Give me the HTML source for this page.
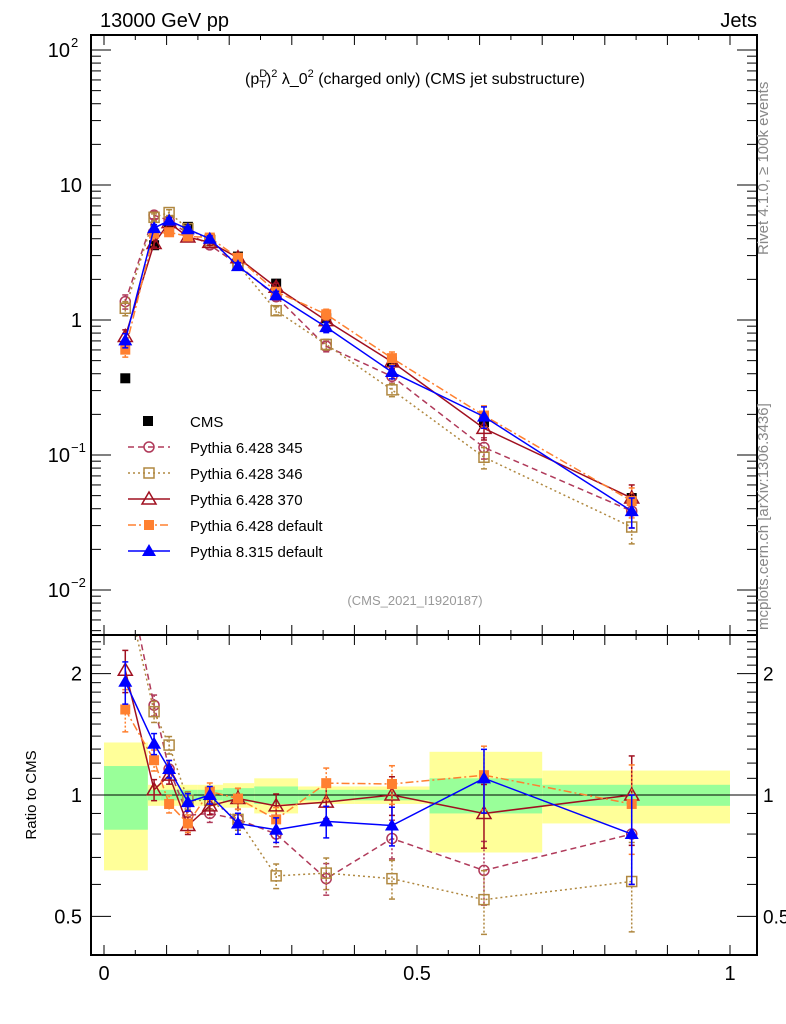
<!DOCTYPE html>
<html><head><meta charset="utf-8"><style>
body{margin:0;background:#fff}
svg{display:block;font-family:"Liberation Sans",sans-serif}
</style></head><body>
<svg id="c" width="786" height="1024" viewBox="0 0 786 1024" xmlns="http://www.w3.org/2000/svg">
<g id="bands"></g>
<g id="grid"></g>
<g id="marks"></g>
<g id="frames"></g>
<text x="100" y="27" font-size="20">13000 GeV pp</text>
<text x="757" y="27" font-size="20" text-anchor="end">Jets</text>
<text x="415" y="84" font-size="16" text-anchor="middle">(p<tspan font-size="11" dy="-7">D</tspan><tspan font-size="11" dy="11" dx="-8">T</tspan><tspan dy="-4">)</tspan><tspan font-size="11" dy="-7">2</tspan><tspan dy="7"> λ_0</tspan><tspan font-size="11" dy="-7">2</tspan><tspan dy="7"> (charged only) (CMS jet substructure)</tspan></text>
<text x="415" y="605" font-size="13" fill="#999" text-anchor="middle">(CMS_2021_I1920187)</text>
<text transform="translate(768,255) rotate(-90)" font-size="15" fill="#888">Rivet 4.1.0, ≥ 100k events</text>
<text transform="translate(768,630) rotate(-90)" font-size="15" fill="#888">mcplots.cern.ch [arXiv:1306.3436]</text>
<text transform="translate(36,795) rotate(-90)" font-size="15" text-anchor="middle">Ratio to CMS</text>
<g id="legend"></g>
</svg>
<script>
const xs=[0.034,0.08,0.104,0.134,0.169,0.214,0.275,0.355,0.46,0.607,0.843];
const binEdges=[0,0.07,0.09,0.12,0.15,0.19,0.24,0.31,0.40,0.52,0.70,1.0];
const cms=[0.37,3.58,4.7,4.9,4.0,2.95,1.86,1.03,0.49,0.175,0.048];
const bandYellow=[0.35,0.06,0.06,0.06,0.06,0.07,0.10,0.05,0.05,0.28,0.15];
const bandGreen=[0.18,0.03,0.03,0.03,0.03,0.04,0.05,0.03,0.03,0.10,0.06];
const r345=[3.7,1.67,1.16,0.89,0.90,0.87,0.80,0.62,0.78,0.65,0.80];
const r346=[3.3,1.61,1.33,0.97,0.97,0.87,0.63,0.64,0.62,0.55,0.61];
const r370=[2.04,1.03,1.12,0.84,0.94,0.98,0.94,0.96,1.0,0.9,1.0];
const r6def=[1.63,1.22,0.95,0.85,1.02,0.98,0.87,1.07,1.065,1.12,0.95];
const r8def=[1.91,1.34,1.16,0.96,1.0,0.85,0.82,0.86,0.84,1.1,0.8];
const relErr=[0.12,0.06,0.05,0.05,0.05,0.06,0.07,0.09,0.11,0.18,0.25];

const NS="http://www.w3.org/2000/svg";
const X=v=>104+626*v;
const Ym=v=>320-135*Math.log10(v);
const Yr=v=>795-403*Math.log10(v);
const L=91,R=757,T=35,M=635,B=955;
function el(t,a,p){const e=document.createElementNS(NS,t);for(const k in a)e.setAttribute(k,a[k]);(p||document.getElementById('marks')).appendChild(e);return e;}
const clip=el('clipPath',{id:'cm'},document.getElementById('c'));el('rect',{x:L,y:T,width:R-L,height:M-T},clip);
const clip2=el('clipPath',{id:'cr'},document.getElementById('c'));el('rect',{x:L,y:M,width:R-L,height:B-M},clip2);

const bg=document.getElementById('bands');
for(let i=0;i<cms.length;i++){
  const x0=X(binEdges[i]),x1=X(binEdges[i+1]);
  let r=el('rect',{x:x0,y:Yr(1+bandYellow[i]),width:x1-x0,height:Yr(1-bandYellow[i])-Yr(1+bandYellow[i]),fill:'#ffff99'},bg);
  
  
  r=el('rect',{x:x0,y:Yr(1+bandGreen[i]),width:x1-x0,height:Yr(1-bandGreen[i])-Yr(1+bandGreen[i]),fill:'#99ff99'},bg);
  
  
}
el('line',{x1:L,x2:R,y1:Yr(1),y2:Yr(1),stroke:'#000','stroke-width':1});

function marker(type,x,y,c,p){
  const s=5;let e;
  if(type==='sq') e=el('rect',{x:x-s,y:y-s,width:2*s,height:2*s,fill:c},p);
  else if(type==='osq') e=el('rect',{x:x-s,y:y-s,width:2*s,height:2*s,fill:'#fff','fill-opacity':0,stroke:c,'stroke-width':1.5},p);
  else if(type==='oc') e=el('circle',{cx:x,cy:y,r:5,fill:'none',stroke:c,'stroke-width':1.5},p);
  else if(type==='otri') e=el('path',{d:`M${x},${y-7}L${x+7},${y+5}L${x-7},${y+5}Z`,fill:'none',stroke:c,'stroke-width':1.5},p);
  else if(type==='tri') e=el('path',{d:`M${x},${y-7}L${x+7},${y+5}L${x-7},${y+5}Z`,fill:c},p);
  else if(type==='bsq') e=el('rect',{x:x-5,y:y-5,width:10,height:10,fill:c},p);
  return e;
}
const series=[
 {name:'Pythia 6.428 345',r:r345,c:'#b03a5a',dash:'6,4',m:'oc'},
 {name:'Pythia 6.428 346',r:r346,c:'#b08840',dash:'2,3',m:'osq'},
 {name:'Pythia 6.428 370',r:r370,c:'#a01020',dash:'',m:'otri'},
 {name:'Pythia 6.428 default',r:r6def,c:'#ff8030',dash:'8,3,2,3',m:'sq'},
 {name:'Pythia 8.315 default',r:r8def,c:'#0000ff',dash:'',m:'tri'}
];
const gm=el('g',{'clip-path':'url(#cm)'});
const gr=el('g',{'clip-path':'url(#cr)'});
cms.forEach((v,i)=>{const m=marker('bsq',X(xs[i]),Ym(v),'#000',gm);
  
  });
series.forEach((s,si)=>{
  const vals=s.r.map((r,i)=>r*cms[i]);
  const pm=vals.map((v,i)=>X(xs[i])+','+Ym(v)).join(' ');
  const pr=s.r.map((v,i)=>X(xs[i])+','+Yr(v)).join(' ');
  let l=el('polyline',{points:pm,fill:'none',stroke:s.c,'stroke-width':1.5,'stroke-dasharray':s.dash},gm);
  
  
  l=el('polyline',{points:pr,fill:'none',stroke:s.c,'stroke-width':1.5,'stroke-dasharray':s.dash},gr);
  
  
  vals.forEach((v,i)=>{
    const x=X(xs[i]),e=relErr[i];
    [[gm,Ym(v*(1+e)),Ym(v*(1-e)),Ym(v)],[gr,Yr(s.r[i]*(1+e)),Yr(s.r[i]*(1-e)),Yr(s.r[i])]].forEach(([g,a,b,y])=>{
      el('line',{x1:x,x2:x,y1:a,y2:b,stroke:s.c,'stroke-width':1.5,'stroke-dasharray':s.dash?'2,2':''},g);
      el('line',{x1:x-3,x2:x+3,y1:a,y2:a,stroke:s.c,'stroke-width':1.5},g);
      el('line',{x1:x-3,x2:x+3,y1:b,y2:b,stroke:s.c,'stroke-width':1.5},g);
      const m=marker(s.m,x,y,s.c,g);
      
      
    });
  });
});
const lg=document.getElementById('legend');
marker('bsq',148,421,'#000',lg);
el('text',{x:190,y:427,'font-size':15},lg).textContent='CMS';
series.forEach((s,i)=>{const y=447+26*i;
  el('line',{x1:128,x2:170,y1:y,y2:y,stroke:s.c,'stroke-width':1.5,'stroke-dasharray':s.dash},lg);
  marker(s.m,149,y,s.c,lg);
  const t=el('text',{x:190,y:y+6,'font-size':15},lg);t.textContent=s.name;
  
  
});
const fg=document.getElementById('frames');
el('rect',{x:L,y:T,width:R-L,height:B-T,fill:'none',stroke:'#000','stroke-width':2},fg);
el('line',{x1:L,x2:R,y1:M,y2:M,stroke:'#000','stroke-width':2},fg);
for(let k=0;k<=20;k++){const v=k*0.05,x=X(v),len=k%2?5:10;
  [T,M].forEach(y=>el('line',{x1:x,x2:x,y1:y,y2:y+len,stroke:'#000'},fg));
  [M,B].forEach(y=>el('line',{x1:x,x2:x,y1:y,y2:y-len,stroke:'#000'},fg));
}
[[0,'0'],[0.5,'0.5'],[1,'1']].forEach(([v,t])=>el('text',{x:X(v),y:980,'font-size':20,'text-anchor':'middle'},fg).textContent=t);
for(let d=-3;d<=2;d++)for(let k=1;k<10;k++){const v=k*Math.pow(10,d),y=Ym(v);if(y<T||y>M)continue;const len=k===1?20:10;
  el('line',{x1:L,x2:L+len,y1:y,y2:y,stroke:'#000'},fg);el('line',{x1:R,x2:R-len,y1:y,y2:y,stroke:'#000'},fg);}
const yl=[[100,'10','2'],[10,'10',''],[1,'1',''],[0.1,'10','−1'],[0.01,'10','−2']];
yl.forEach(([v,b,e])=>{const t=el('text',{x:e?70:82,y:Ym(v)+7,'font-size':20,'text-anchor':'end'},fg);t.textContent=b;
  if(e){const s=el('text',{x:71,y:Ym(v)-3,'font-size':13},fg);s.textContent=e;}});
for(let v=0.4;v<=2.5;v+=0.1){const y=Yr(v);if(y<M||y>B)continue;const maj=Math.abs(v-0.5)<1e-6||Math.abs(v-1)<1e-6||Math.abs(v-2)<1e-6;const len=maj?20:10;
  el('line',{x1:L,x2:L+len,y1:y,y2:y,stroke:'#000'},fg);el('line',{x1:R,x2:R-len,y1:y,y2:y,stroke:'#000'},fg);}
[[2,'2'],[1,'1'],[0.5,'0.5']].forEach(([v,t])=>{
  el('text',{x:82,y:Yr(v)+7,'font-size':20,'text-anchor':'end'},fg).textContent=t;
  el('text',{x:763,y:Yr(v)+7,'font-size':19},fg).textContent=t;});
</script>
</body></html>
